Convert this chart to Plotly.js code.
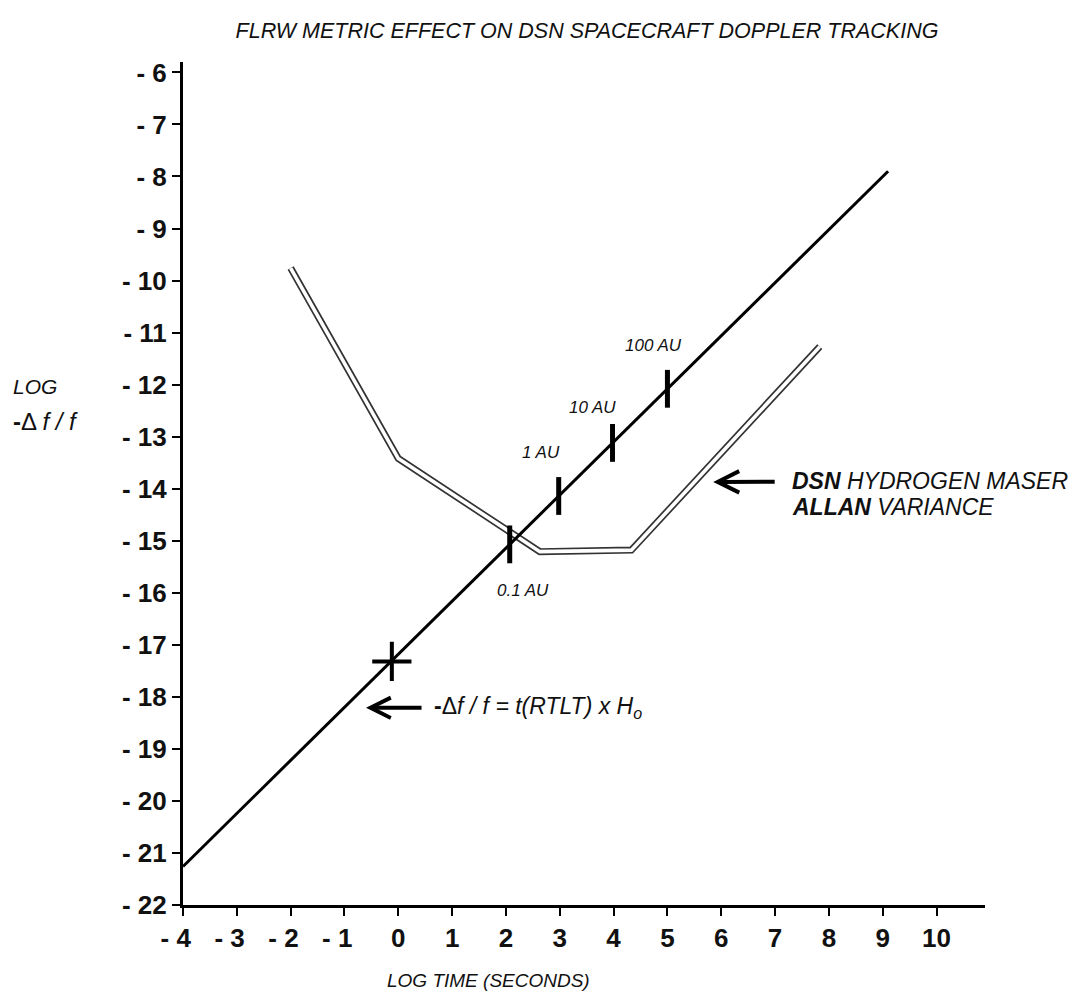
<!DOCTYPE html>
<html>
<head>
<meta charset="utf-8">
<script src="https://cdn.plot.ly/plotly-3.0.1.min.js"></script>
<style>html,body{margin:0;padding:0;background:#fff;}#chart{width:1072px;height:999px;}</style>
</head>
<body>
<div id="chart"></div>
<script>
// ---- data ----
const xTickVals = [-4, -3, -2, -1, 0, 1, 2, 3, 4, 5, 6, 7, 8, 9, 10];
const xTickText = ["- 4", "- 3", "- 2", "- 1", "0", "1", "2", "3", "4", "5", "6", "7", "8", "9", "10"];
const yTickVals = [-6, -7, -8, -9, -10, -11, -12, -13, -14, -15, -16, -17, -18, -19, -20, -21, -22];
const yTickText = ["- 6", "- 7", "- 8", "- 9", "- 10", "- 11", "- 12", "- 13", "- 14", "- 15", "- 16", "- 17", "- 18", "- 19", "- 20", "- 21", "- 22"];

// -Δf/f = t(RTLT) x Ho line
const rtltX = [-4, 9.1];
const rtltY = [-21.26, -7.9];

// DSN hydrogen maser Allan variance curve
const allanX = [-2, 0, 2.63, 4.33, 7.83];
const allanY = [-9.76, -13.42, -15.21, -15.18, -11.27];

// distance marks on the line
const auLabels = ["0.1 AU", "1 AU", "10 AU", "100 AU"];
const auX = [2.07, 2.98, 3.98, 5.0];
const auY = [-15.07, -14.14, -13.12, -12.08];

// cross mark at t = 1 s
const crossX = [-0.12];
const crossY = [-17.32];

const FONT = "Liberation Sans, Arial, sans-serif";

const traces = [
  {x: allanX, y: allanY, mode: "lines", line: {color: "#333", width: 7}, hoverinfo: "skip", showlegend: false},
  {x: allanX, y: allanY, mode: "lines", line: {color: "#fff", width: 3.6}, hoverinfo: "skip", showlegend: false},
  {x: rtltX, y: rtltY, mode: "lines", line: {color: "#000", width: 3}, hoverinfo: "skip", showlegend: false},
  {x: auX, y: auY, mode: "markers", marker: {symbol: "line-ns-open", size: 27, color: "#000", line: {color: "#000", width: 5}}, hoverinfo: "skip", showlegend: false},
  {x: crossX, y: crossY, mode: "markers", marker: {symbol: "cross-thin-open", size: 28, color: "#000", line: {color: "#000", width: 4}}, hoverinfo: "skip", showlegend: false}
];

// pad negative x labels so the digit sits under its tick
const xTickTextPadded = xTickText.map(t => t.indexOf("-") === 0 ? t + "\u00a0\u00a0" : t);

// AU label offsets relative to their marks (pixels; +y is up)
const auLabelShift = [[13, -46], [-18, 43], [-20, 35], [-14, 43]];
const annotations = auLabels.map((t, i) => ({
  x: auX[i], y: auY[i], xref: "x", yref: "y",
  text: "<i>" + t + "</i>", showarrow: false,
  xshift: auLabelShift[i][0], yshift: auLabelShift[i][1],
  font: {family: FONT, size: 17, color: "#111"}
}));

annotations.push(
  // formula with its arrow pointing at the line
  {x: -0.6, y: -18.21, xref: "x", yref: "y", ax: 172, ay: 0, showarrow: true,
   arrowhead: 5, arrowsize: 1, arrowwidth: 4, arrowcolor: "#000", startstandoff: 11,
   text: "<b>-</b>Δ<i>f / f = t(RTLT) x H<sub>o</sub></i>",
   font: {family: FONT, size: 23, color: "#111"}},
  // DSN label line 1 with its arrow pointing at the curve
  {x: 5.85, y: -13.87, xref: "x", yref: "y", ax: 217, ay: -1, showarrow: true,
   arrowhead: 5, arrowsize: 1.05, arrowwidth: 4, arrowcolor: "#000", startstandoff: 16,
   text: "<i><b>DSN</b> HYDROGEN MASER</i>", font: {family: FONT, size: 23, color: "#111"}},
  {x: 0.757, y: (905 - 507) / 843, xref: "paper", yref: "paper", xanchor: "left", yanchor: "middle", showarrow: false,
   text: "<i><b>ALLAN</b> VARIANCE</i>", font: {family: FONT, size: 23, color: "#111"}},
  {x: -183 / 802, y: (905 - 386) / 843, xref: "paper", yref: "paper", xanchor: "left", xshift: 11, yanchor: "middle", showarrow: false,
   text: "<i>LOG</i>", font: {family: FONT, size: 21, color: "#111"}},
  {x: -183 / 802, y: (905 - 422) / 843, xref: "paper", yref: "paper", xanchor: "left", xshift: 11, yanchor: "middle", showarrow: false,
   text: "<b>-</b>Δ <i>f / f</i>", font: {family: FONT, size: 24, color: "#111"}},
  {x: (488 - 183) / 802, y: (905 - 980) / 843, xref: "paper", yref: "paper", xanchor: "center", yanchor: "middle", showarrow: false,
   text: "<i>LOG TIME (SECONDS)</i>", font: {family: FONT, size: 19, color: "#111"}}
);

const layout = {
  width: 1072, height: 999,
  paper_bgcolor: "#fff", plot_bgcolor: "#fff",
  margin: {l: 183, r: 87, t: 62, b: 94, pad: 0},
  title: {text: "<i>FLRW METRIC EFFECT ON DSN SPACECRAFT DOPPLER TRACKING</i>",
          x: 587 / 1072, xanchor: "center", y: 1 - 30 / 999, yanchor: "middle",
          font: {family: FONT, size: 21.5, color: "#111"}},
  xaxis: {range: [-4, 10.9], tickmode: "array", tickvals: xTickVals, ticktext: xTickTextPadded,
          showgrid: false, zeroline: false, showline: true, linecolor: "#000", linewidth: 3,
          ticks: "outside", ticklen: 8, tickwidth: 2, tickcolor: "#000",
          tickfont: {family: FONT, size: 26, color: "#111", weight: "bold"}, automargin: false, fixedrange: true},
  yaxis: {range: [-22, -5.8], tickmode: "array", tickvals: yTickVals, ticktext: yTickText,
          showgrid: false, zeroline: false, showline: true, linecolor: "#000", linewidth: 3,
          ticks: "outside", ticklen: 8, tickwidth: 2, tickcolor: "#000",
          tickfont: {family: FONT, size: 26, color: "#111", weight: "bold"}, automargin: false, fixedrange: true},
  annotations: annotations,
  showlegend: false
};

Plotly.newPlot("chart", traces, layout, {displayModeBar: false, staticPlot: true});
</script>
</body>
</html>
